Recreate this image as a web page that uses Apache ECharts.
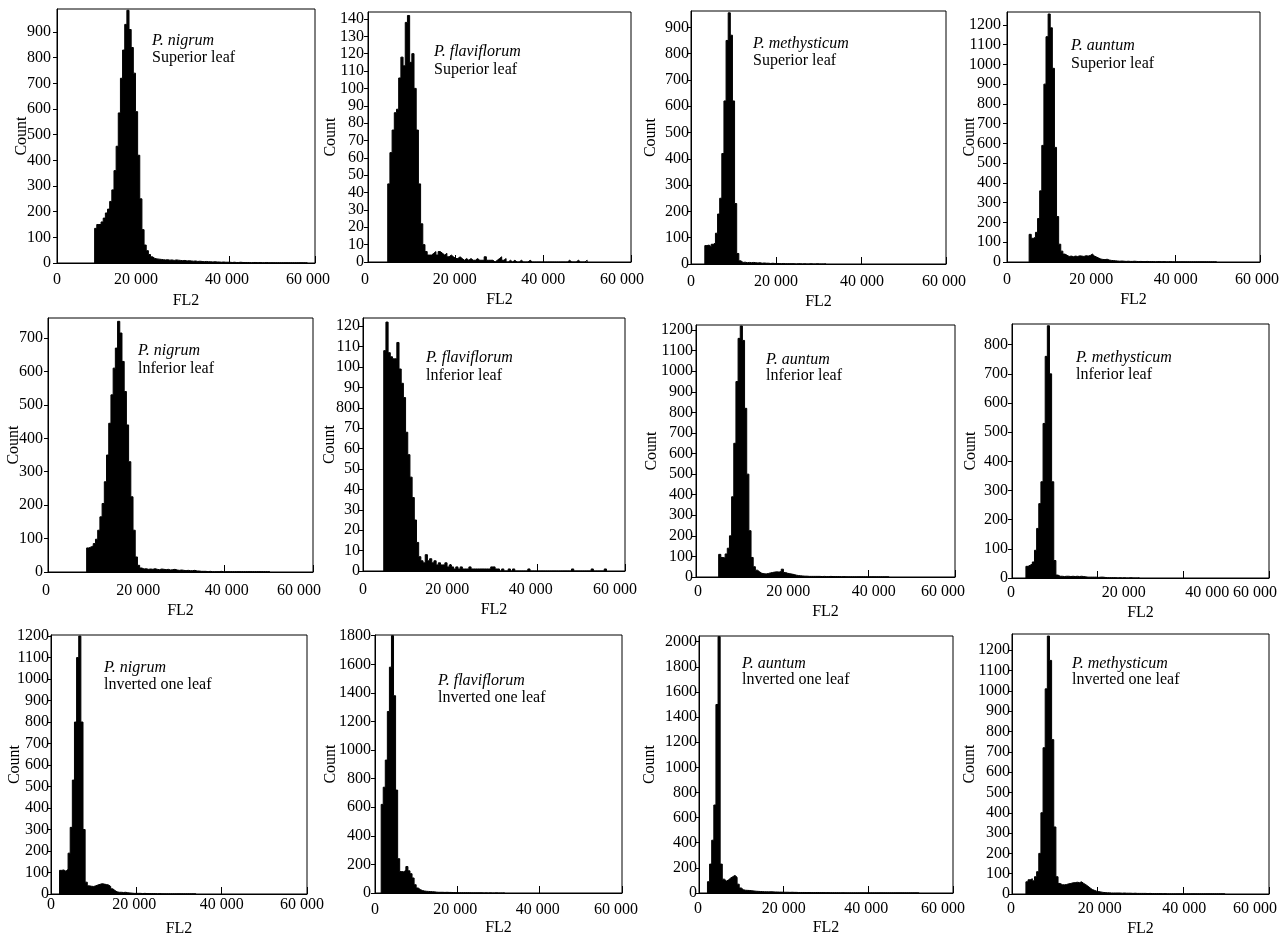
<!DOCTYPE html>
<html>
<head>
<meta charset="utf-8">
<script src="https://cdn.jsdelivr.net/npm/echarts@6/dist/echarts.min.js"></script>
<style>
  html, body { margin: 0; padding: 0; background: #fff; }
  #main { width: 1288px; height: 943px; }
</style>
</head>
<body>
<div id="main"></div>
<script>
// histogram bins are 500 FL2 units wide, each array starts at the given left edge
const binWidth = 500;
const xTickLabels = ['0', '20 000', '40 000', '60 000'];
const flavInfYLabels = ['0', '10', '20', '30', '40', '50', '60', '70', '800', '90', '100', '110', '120'];

// row 1 - superior leaf
const nigrumSupStart = 8750;
const nigrumSupCounts = [135, 150, 150, 160, 175, 195, 210, 240, 285, 360, 455, 585, 720, 830, 930, 985, 910, 840, 740, 590, 420, 250, 130, 70, 48, 33, 24, 18,
  16, 15, 14, 13, 12, 13, 11, 12, 10, 12, 11, 10, 9, 10, 8, 9, 8, 7, 8, 6, 7, 6, 5, 6, 5, 5, 4, 5, 4, 4, 3, 4, 3, 3, 3, 2, 3, 2, 2, 3, 2, 2, 2, 2, 1, 2, 2, 1, 2, 1, 1, 2, 1, 1, 1, 1, 1, 1, 1, 1, 1, 1, 1, 1, 1, 1, 1, 1, 1, 1, 1];
const flavSupStart = 4500;
const flavSupCounts = [45, 63, 76, 86, 88, 106, 118, 113, 138, 142, 115, 120, 100, 76, 45, 22, 10, 6, 4,
  4, 5, 6, 4, 6, 5, 4, 5, 3, 4, 3, 2, 2, 3, 2, 1, 2, 1, 2, 1, 1, 2, 1, 1, 1, 3, 1, 1, 1, 0, 1, 2, 3, 1, 2, 0, 1, 0, 1, 0, 0, 1, 0, 0, 0, 1,
  0, 0, 0, 0, 0, 0, 0, 0, 0, 0, 0, 0, 0, 0, 0, 0, 0, 1, 0, 0, 0, 1, 0, 0, 0, 1];
const methSupStart = 3250;
const methSupCounts = [70, 72, 66, 75, 80, 117, 190, 250, 420, 620, 850, 955, 870, 620, 230, 40, 12, 6, 7, 5, 6, 5, 6, 5, 4, 5, 3, 4, 3, 3, 2, 3, 2, 2, 2, 1, 2, 1, 1, 1, 1, 1, 0, 1, 1, 0, 1, 0, 0, 1, 0, 0, 1, 0, 0, 0, 1];
const auntSupStart = 5250;
const auntSupCounts = [140, 120, 125, 150, 220, 360, 590, 900, 1140, 1255, 1185, 980, 580, 230, 90, 55, 40, 34, 28, 30, 27, 30, 28, 31, 30, 28, 32, 30, 33, 40, 30, 25, 20, 15, 13, 12, 14, 10, 8, 7, 6, 5, 4, 5, 4, 3, 4, 3, 3, 4, 3, 2, 3, 2, 2, 3, 2, 2, 2, 1, 2, 2, 1, 2, 1, 1, 2, 1, 1, 1, 1, 1, 1, 1, 1, 1, 1, 1, 1, 1, 1, 1, 1, 1, 1, 1, 1, 1, 1];

// row 2 - inferior leaf
const nigrumInfStart = 8750;
const nigrumInfCounts = [72, 75, 78, 85, 98, 125, 165, 205, 270, 350, 445, 530, 610, 670, 750, 715, 630, 540, 440, 330, 225, 125, 45, 20, 12, 9, 10, 8, 9, 8, 10, 8, 7, 9, 8, 7, 8, 6, 7, 8, 6, 5, 6, 5, 4, 5, 4, 4, 5, 3, 3, 2, 2, 2, 1, 2, 1, 1, 1, 1, 2, 1, 1, 1, 1, 1, 1, 1, 1, 1, 1, 1, 1, 1, 1, 1, 1, 1, 1, 1, 1, 1, 1];
const flavInfStart = 4750;
const flavInfCounts = [108, 122, 107, 105, 104, 104, 112, 99, 92, 85, 68, 57, 46, 36, 25, 14, 7,
  5, 4, 8, 5, 6, 4, 5, 3, 4, 3, 3, 4, 2, 3, 2, 1, 2, 1, 2, 1, 1, 1, 2, 1, 1, 1, 1, 1, 1, 1, 1, 1, 2, 2, 1, 1, 0, 1, 0, 0, 1, 0, 1,
  0, 0, 0, 0, 0, 0, 1, 0, 0, 0, 0, 0, 0, 0, 0, 0, 0, 0, 0, 0, 0, 0, 0, 0, 0, 0, 1, 0, 0, 0, 0, 0, 0, 0, 0, 1, 0, 0, 0, 0, 0, 1];
const auntInfStart = 5250;
const auntInfCounts = [110, 95, 92, 112, 140, 200, 390, 650, 950, 1160, 1220, 1150, 820, 500, 225, 95, 50, 33, 25, 18, 16, 15, 17, 20, 22, 24, 25, 24, 27, 38, 22, 18, 16, 14, 12, 9, 7, 6, 5, 4, 4, 3, 3, 3, 3, 3, 3, 2, 3, 2, 2, 3, 2, 2, 2, 2, 1, 2, 1, 1, 1, 1, 1, 1, 1, 1, 1, 1, 1, 1, 1, 1, 1, 1, 1, 1, 1, 1, 1];
const methInfStart = 3250;
const methInfCounts = [40, 44, 48, 55, 95, 170, 255, 330, 530, 760, 865, 700, 330, 60, 10, 6, 6, 5, 6, 6, 5, 6, 5, 6, 5, 6, 5, 4, 3, 3, 3, 3, 3, 2, 3, 3, 2, 1, 1, 1, 1, 1, 0, 1, 0, 1, 0, 0, 1, 0, 0, 0, 1];

// row 3 - inverted one leaf
const nigrumInvStart = 2000;
const nigrumInvCounts = [110, 112, 106, 115, 190, 310, 530, 800, 1100, 1200, 800, 300, 55, 38, 36, 35, 38, 42, 45, 48, 46, 44, 42, 35, 24, 16, 10, 8, 8, 7, 8, 6, 5, 4, 3, 3, 3, 3, 2, 3, 2, 2, 2, 2, 2, 1, 2, 1, 1, 1, 1, 1, 1, 1, 1, 1, 1, 1, 1, 1, 1, 1, 1, 1];
const flavInvStart = 1500;
const flavInvCounts = [620, 740, 930, 1270, 1580, 1800, 1380, 720, 240, 150, 148, 160, 185, 155, 135, 105, 58, 35, 24, 18, 14, 12, 11, 10, 9, 8, 6, 5, 5, 5, 4, 5, 4, 4, 3, 3, 2, 2, 2, 2, 2, 2, 2, 1, 1, 1, 1, 1, 1, 0, 1, 0, 1, 0, 0, 1, 0, 0, 0, 1];
const auntInvStart = 2000;
const auntInvCounts = [90, 230, 420, 700, 1500, 2040, 230, 110, 95, 105, 120, 130, 140, 125, 70, 40, 26, 22, 21, 20, 18, 16, 14, 13, 12, 11, 10, 10, 9, 10, 9, 8, 8, 7, 7, 6, 6, 6, 5, 6, 5, 5, 4, 4, 4, 4, 3, 4, 3, 3, 3, 4, 3, 3, 3, 2, 3, 2, 2, 2, 2, 2, 1, 2, 1, 1, 1, 1, 1, 1, 1, 1, 1, 1, 1, 1, 1, 1, 1, 1, 1, 1, 1, 1, 1, 1, 1, 1, 1, 1, 1, 1, 1, 1, 1, 1, 1, 1, 1, 1];
const methInvStart = 3250;
const methInvCounts = [60, 70, 75, 65, 85, 110, 200, 400, 720, 1010, 1270, 1150, 760, 330, 85, 52, 46, 45, 47, 50, 52, 55, 56, 58, 56, 60, 52, 46, 38, 30, 22, 18, 14, 12, 10, 8, 7, 6, 6, 5, 5, 5, 5, 5, 4, 5, 4, 4, 4, 3, 4, 3, 3, 3, 3, 3, 2, 3, 2, 2, 2, 2, 2, 1, 2, 1, 1, 1, 1, 1, 1, 1, 1, 1, 1, 1, 1, 1, 1, 1, 1, 1, 1, 1, 1, 1, 1, 1, 1, 1, 1, 1, 1];

const panels = [
  { species: 'P. nigrum', leaf: 'Superior leaf', start: nigrumSupStart, counts: nigrumSupCounts, yMax: 990, yStep: 100 },
  { species: 'P. flaviflorum', leaf: 'Superior leaf', start: flavSupStart, counts: flavSupCounts, yMax: 144, yStep: 10 },
  { species: 'P. methysticum', leaf: 'Superior leaf', start: methSupStart, counts: methSupCounts, yMax: 962, yStep: 100 },
  { species: 'P. auntum', leaf: 'Superior leaf', start: auntSupStart, counts: auntSupCounts, yMax: 1265, yStep: 100 },
  { species: 'P. nigrum', leaf: 'lnferior leaf', start: nigrumInfStart, counts: nigrumInfCounts, yMax: 760, yStep: 100 },
  { species: 'P. flaviflorum', leaf: 'lnferior leaf', start: flavInfStart, counts: flavInfCounts, yMax: 124, yStep: 10, yLabels: flavInfYLabels },
  { species: 'P. auntum', leaf: 'lnferior leaf', start: auntInfStart, counts: auntInfCounts, yMax: 1225, yStep: 100 },
  { species: 'P. methysticum', leaf: 'lnferior leaf', start: methInfStart, counts: methInfCounts, yMax: 871, yStep: 100 },
  { species: 'P. nigrum', leaf: 'lnverted one leaf', start: nigrumInvStart, counts: nigrumInvCounts, yMax: 1205, yStep: 100 },
  { species: 'P. flaviflorum', leaf: 'lnverted one leaf', start: flavInvStart, counts: flavInvCounts, yMax: 1805, yStep: 200 },
  { species: 'P. auntum', leaf: 'lnverted one leaf', start: auntInvStart, counts: auntInvCounts, yMax: 2045, yStep: 200 },
  { species: 'P. methysticum', leaf: 'lnverted one leaf', start: methInvStart, counts: methInvCounts, yMax: 1280, yStep: 100 }
];

// where each panel sits on the page; xShift nudges the four x tick labels sideways
const layout = [
  { left: 57, top: 9, width: 258, height: 254, countGap: 27.5, yMargin: 6, xMargin: 9, flGap: 30, xShift: [0, -7, -2, -7], noteX: 152, noteY: [40.5, 57.8] },
  { left: 368, top: 12, width: 263, height: 250, countGap: 29.4, yMargin: 4, xMargin: 10, flGap: 30, xShift: [-3, -1, 0, -9], noteX: 434, noteY: [51.7, 69.3] },
  { left: 691, top: 11, width: 255, height: 253, countGap: 31.8, yMargin: 2, xMargin: 10, flGap: 30, xShift: [0, 0, 1, -2], noteX: 753, noteY: [43.8, 60.5] },
  { left: 1007, top: 12, width: 253, height: 250, countGap: 29.3, yMargin: 6, xMargin: 10, flGap: 30, xShift: [0, 0, 0, -3], noteX: 1071, noteY: [46, 63.5] },
  { left: 48, top: 318, width: 265, height: 254, countGap: 26, yMargin: 5, xMargin: 11, flGap: 31, xShift: [-2, 2, 2, -14], noteX: 138, noteY: [351, 369] },
  { left: 363, top: 318, width: 262, height: 253, countGap: 24.9, yMargin: 3, xMargin: 11, flGap: 31, xShift: [0, -3, -7, -10], noteX: 426, noteY: [357.7, 375.4] },
  { left: 696, top: 325, width: 259, height: 252, countGap: 36, yMargin: 3, xMargin: 7, flGap: 27, xShift: [2, 6, 5, -12], noteX: 766, noteY: [359.3, 376] },
  { left: 1012, top: 324, width: 257, height: 254, countGap: 33.5, yMargin: 4, xMargin: 7, flGap: 27, xShift: [-1, 26, 24, -14], noteX: 1076, noteY: [357.7, 374.3] },
  { left: 51, top: 635, width: 256, height: 259, countGap: 28, yMargin: 2, xMargin: 3, flGap: 27, xShift: [0, -2, 0, -5], noteX: 104, noteY: [667.7, 684.3] },
  { left: 375, top: 635, width: 247, height: 258, countGap: 36.7, yMargin: 4, xMargin: 9, flGap: 27, xShift: [0, -2, -2, -6], noteX: 438, noteY: [681, 697.3] },
  { left: 699, top: 636, width: 254, height: 257, countGap: 41, yMargin: 2, xMargin: 8, flGap: 27, xShift: [-1, 0, -2, -10], noteX: 742, noteY: [663.7, 679.3] },
  { left: 1012, top: 634, width: 257, height: 260, countGap: 34.3, yMargin: 2, xMargin: 7, flGap: 27, xShift: [-1, 2, 1, -14], noteX: 1072, noteY: [663.7, 679.3] }
];

const serif = "'Liberation Serif', 'Times New Roman', serif";
const black = '#000';

function histPoints(start, counts) {
  const pts = [[start, 0]];
  counts.forEach(function (c, i) { pts.push([start + i * binWidth, c]); });
  pts.push([start + counts.length * binWidth, 0]);
  return pts;
}

// rich styles that move a centred label by padding one side of it
function shiftRich(shifts) {
  const rich = {};
  shifts.forEach(function (s, k) {
    rich['s' + k] = {
      fontFamily: serif, fontSize: 16, color: black,
      padding: [0, s < 0 ? -2 * s : 0, 0, s > 0 ? 2 * s : 0]
    };
  });
  return rich;
}

const grids = [], xAxes = [], yAxes = [], series = [], graphics = [];

panels.forEach(function (p, i) {
  const L = layout[i];
  grids.push({
    left: L.left, top: L.top, width: L.width, height: L.height,
    outerBoundsMode: 'none',
    show: true, borderColor: black, borderWidth: 1, backgroundColor: 'transparent'
  });
  xAxes.push({
    gridIndex: i, type: 'value', min: 0, max: 60000, interval: 20000,
    name: 'FL2', nameLocation: 'middle', nameGap: L.flGap, nameMoveOverlap: false,
    nameTextStyle: { fontFamily: serif, fontSize: 16, color: black },
    axisLine: { show: true, lineStyle: { color: black, width: 1 } },
    axisTick: { show: true, inside: true, length: 7, lineStyle: { color: black } },
    axisLabel: {
      margin: L.xMargin, fontFamily: serif, fontSize: 16, color: black,
      formatter: function (v) {
        const k = Math.round(v / 20000);
        return '{s' + k + '|' + xTickLabels[k] + '}';
      },
      rich: shiftRich(L.xShift)
    },
    splitLine: { show: false }
  });
  yAxes.push({
    gridIndex: i, type: 'value', min: 0, max: p.yMax, interval: p.yStep,
    name: 'Count', nameLocation: 'middle', nameGap: L.countGap, nameRotate: 90, nameMoveOverlap: false,
    nameTextStyle: { fontFamily: serif, fontSize: 16, color: black },
    axisLine: { show: true, lineStyle: { color: black, width: 1 } },
    axisTick: { show: true, inside: false, length: 4, lineStyle: { color: black } },
    axisLabel: {
      margin: L.yMargin, fontFamily: serif, fontSize: 16, color: black, showMaxLabel: false,
      formatter: function (v) {
        return p.yLabels ? p.yLabels[Math.round(v / p.yStep)] : String(v);
      }
    },
    splitLine: { show: false }
  });
  series.push({
    type: 'line', xAxisIndex: i, yAxisIndex: i,
    data: histPoints(p.start, p.counts),
    step: 'end', symbol: 'none', silent: true,
    lineStyle: { color: black, width: 1 },
    areaStyle: { color: black, opacity: 1 }
  });
  graphics.push({
    type: 'text', x: L.noteX, y: L.noteY[0], silent: true,
    style: { text: p.species, fontFamily: serif, fontSize: 16, fontStyle: 'italic', fill: black, verticalAlign: 'middle' }
  });
  graphics.push({
    type: 'text', x: L.noteX, y: L.noteY[1], silent: true,
    style: { text: p.leaf, fontFamily: serif, fontSize: 16, fill: black, verticalAlign: 'middle' }
  });
});

const chart = echarts.init(document.getElementById('main'));
chart.setOption({
  animation: false,
  backgroundColor: '#fff',
  textStyle: { fontFamily: serif },
  grid: grids,
  xAxis: xAxes,
  yAxis: yAxes,
  series: series,
  graphic: graphics
});
</script>
</body>
</html>
